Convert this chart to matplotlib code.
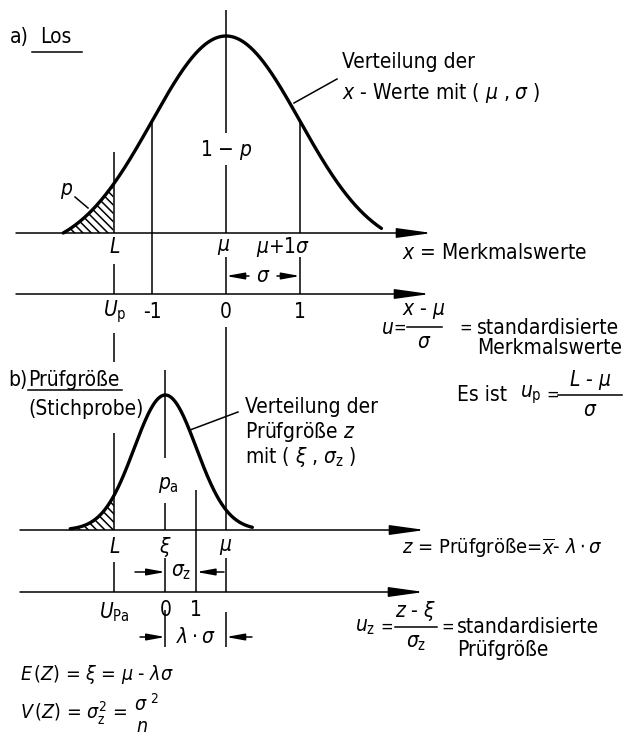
import numpy as np
import matplotlib
matplotlib.use("Agg")
import matplotlib.pyplot as plt

FONT = "DejaVu Sans"
plt.rcParams['font.family'] = [FONT]
plt.rcParams['font.stretch'] = 'condensed'
plt.rcParams['mathtext.fontset'] = 'custom'
plt.rcParams['mathtext.rm'] = FONT + ':stretch=condensed'
plt.rcParams['mathtext.it'] = FONT + ':italic:stretch=condensed'
plt.rcParams['hatch.linewidth'] = 1.1

# ── Daten (in sigma-Einheiten, mu = 0) ──
# a) Los
KURVE_A = [-2.2, 2.1]          # Bereich der Glocke
U_L = -1.51                    # Grenzwert L (= u_p)
U_MARKEN = [-1, 0, 1]
U_LABELS = ["-1", "0", "1"]
# b) Prüfgröße
XI = -0.82                     # Lage von xi
SIGMA_Z = 0.42                 # sigma_z / sigma
KURVE_B = [-3.06, 2.8]         # Bereich in u_z
UZ_MARKEN = [0, 1]
UZ_LABELS = ["0", "1"]

# ── Layout (Pixel) ──
X0, SX = 226, 74               # Pixel von mu, Pixel je sigma
Y_XA, Y_UA = 233, 294          # Achsen a)
Y_ZA, Y_UZ = 530, 592          # Achsen b)
H_A, H_B = 197, 135            # Höhe der Glocken
FS = 15
FS_EQ = 12                     # kleine Gleichheitszeichen
LW = 1.1


def px(u):
    return X0 + SX * np.asarray(u, dtype=float)


fig = plt.figure(figsize=(6.23, 7.37), dpi=100)
ax = fig.add_axes([0, 0, 1, 1])
ax.set_xlim(0, 623)
ax.set_ylim(737, 0)
ax.axis("off")


def txt(x, y, s, ha="left", va="center", size=FS, **kw):
    ax.text(x, y, s, ha=ha, va=va, fontsize=size, color="k", **kw)


def vline(x, segs):
    for y0, y1 in segs:
        ax.plot([x, x], [y0, y1], color="k", lw=LW, solid_capstyle="butt")


def achse(y, x0, x1):
    ax.annotate("", xy=(x1, y), xytext=(x0, y),
                arrowprops=dict(arrowstyle="-|>,head_length=1.8,head_width=0.25",
                                color="k", lw=LW, shrinkA=0, shrinkB=0,
                                mutation_scale=12))


def pfeil(y, x_from, x_to):
    ax.annotate("", xy=(x_to, y), xytext=(x_from, y),
                arrowprops=dict(arrowstyle="-|>,head_length=1.1,head_width=0.2",
                                color="k", lw=LW, shrinkA=0, shrinkB=0,
                                mutation_scale=10))


# ── a) Los ──
zz = np.linspace(KURVE_A[0], KURVE_A[1], 300)
g_end = np.exp(-KURVE_A[0] ** 2 / 2)
def kurve_a(z):
    return Y_XA - H_A * (np.exp(-np.asarray(z) ** 2 / 2) - g_end) / (1 - g_end)

ya = kurve_a(zz)
ax.plot(px(zz), ya, color="k", lw=2.4, solid_capstyle="round")
m = zz <= U_L
ax.fill_between(px(zz[m]), ya[m], Y_XA, facecolor="none", edgecolor="k",
                hatch="\\\\\\\\", linewidth=0)

achse(Y_XA, 16, 432)
achse(Y_UA, 16, 430)

xl = float(px(U_L))
vline(xl, [(152, Y_XA), (264, Y_UA), (333, 362), (433, Y_ZA), (562, Y_UZ)])
vline(px(-1), [(float(kurve_a(-1)), Y_UA)])
vline(X0, [(10, 133), (165, Y_XA), (257, Y_UA), (327, Y_ZA), (558, Y_UZ), (612, 647)])
vline(px(1), [(float(kurve_a(1)), Y_XA), (257, Y_UA)])

txt(10, 37, "a)")
txt(40, 37, "Los")
ax.plot([32, 82], [52, 52], color="k", lw=LW)
txt(342, 62, "Verteilung der")
txt(342, 93, r"$x$ - Werte mit ( $\mu$ , $\sigma$ )")
ax.plot([294, 337], [103, 79], color="k", lw=LW)
txt(X0, 150, r"1 $-$ $p$", ha="center")
txt(67, 191, r"$p$", ha="center")
ax.plot([75, 88], [197, 208], color="k", lw=LW)

txt(xl, 247, r"$L$", ha="center")
txt(X0 - 2, 247, r"$\mu$", ha="center")
txt(283, 247, r"$\mu$+1$\sigma$", ha="center")
txt(402, 253, r"$x$ = Merkmalswerte")
pfeil(276, 249, X0)
pfeil(276, 277, px(1))
txt(263, 276, r"$\sigma$", ha="center")

txt(xl, 312, r"$U_{\mathrm{p}}$", ha="center")
for u, lab in zip(U_MARKEN, U_LABELS):
    txt(px(u), 312, lab, ha="center")

txt(381, 328, r"$u$")
txt(393, 328, "=", size=FS_EQ)
txt(424, 311, r"$x$ - $\mu$", ha="center")
ax.plot([407, 442], [327, 327], color="k", lw=LW)
txt(424, 342, r"$\sigma$", ha="center")
txt(459, 328, "=", size=FS_EQ)
txt(477, 328, "standardisierte")
txt(477, 348, "Merkmalswerte")

txt(457, 395, "Es ist")
txt(520, 395, r"$u_{\mathrm{p}}$")
txt(546, 395, "=", size=FS_EQ)
txt(590, 380, r"$L$ - $\mu$", ha="center")
ax.plot([558, 622], [395, 395], color="k", lw=LW)
txt(590, 410, r"$\sigma$", ha="center")

# ── b) Prüfgröße ──
xxi = float(px(XI))
x1z = float(px(XI + SIGMA_Z))
zb = np.linspace(KURVE_B[0], KURVE_B[1], 300)
yb = Y_ZA - H_B * np.exp(-zb ** 2 / 2)
xb = px(XI + SIGMA_Z * zb)
ax.plot(xb, yb, color="k", lw=2.4, solid_capstyle="round")
mb = xb <= xl
ax.fill_between(xb[mb], yb[mb], Y_ZA, facecolor="none", edgecolor="k",
                hatch="\\\\\\\\", linewidth=0)

achse(Y_ZA, 20, 425)
achse(Y_UZ, 20, 424)

vline(xxi, [(370, 458), (503, Y_ZA), (558, Y_UZ), (610, 647)])
vline(x1z, [(490, Y_UZ)])

txt(8, 380, "b)")
txt(28, 380, "Prüfgröße")
ax.plot([28, 122], [390, 390], color="k", lw=LW)
txt(28, 409, "(Stichprobe)")
txt(245, 407, "Verteilung der")
txt(245, 432, r"Prüfgröße $z$")
txt(245, 457, r"mit ( $\xi$ , $\sigma_{\mathrm{z}}$ )")
ax.plot([190, 238], [430, 412], color="k", lw=LW)
txt(168, 485, r"$p_{\mathrm{a}}$", ha="center")

txt(xl, 547, r"$L$", ha="center")
txt(xxi, 547, r"$\xi$", ha="center")
txt(X0, 547, r"$\mu$", ha="center")
txt(402, 548, r"$z$ = Prüfgröße=$\overline{x}$- $\lambda\cdot\sigma$", size=14.5)

pfeil(572, 135, xxi)
pfeil(572, 224, x1z)
txt((xxi + x1z) / 2, 572, r"$\sigma_{\mathrm{z}}$", ha="center")

txt(xl, 612, r"$U_{\mathrm{Pa}}$", ha="center")
for u, lab in zip(UZ_MARKEN, UZ_LABELS):
    txt(float(px(XI + SIGMA_Z * u)), 610, lab, ha="center")

pfeil(637, 140, xxi)
pfeil(637, 252, X0)
txt(196, 637, r"$\lambda\cdot\sigma$", ha="center")

txt(355, 627, r"$u_{\mathrm{z}}$")
txt(380, 627, "=", size=FS_EQ)
txt(416, 611, r"$z$ - $\xi$", ha="center")
ax.plot([395, 437], [627, 627], color="k", lw=LW)
txt(416, 643, r"$\sigma_{\mathrm{z}}$", ha="center")
txt(441, 627, "=", size=FS_EQ)
txt(457, 627, "standardisierte")
txt(457, 650, "Prüfgröße")

txt(20, 674, r"$E\,(Z)$ = $\xi$ = $\mu$ - $\lambda\sigma$", size=14)
txt(20, 713, r"$V\,(Z)$ = $\sigma_{\mathrm{z}}^{2}$ =", size=14)
txt(146, 704, r"$\sigma^{\ 2}$", ha="center", size=14)
txt(142, 727, r"$n$", ha="center", size=14)

fig.savefig("out.png", dpi=100)
